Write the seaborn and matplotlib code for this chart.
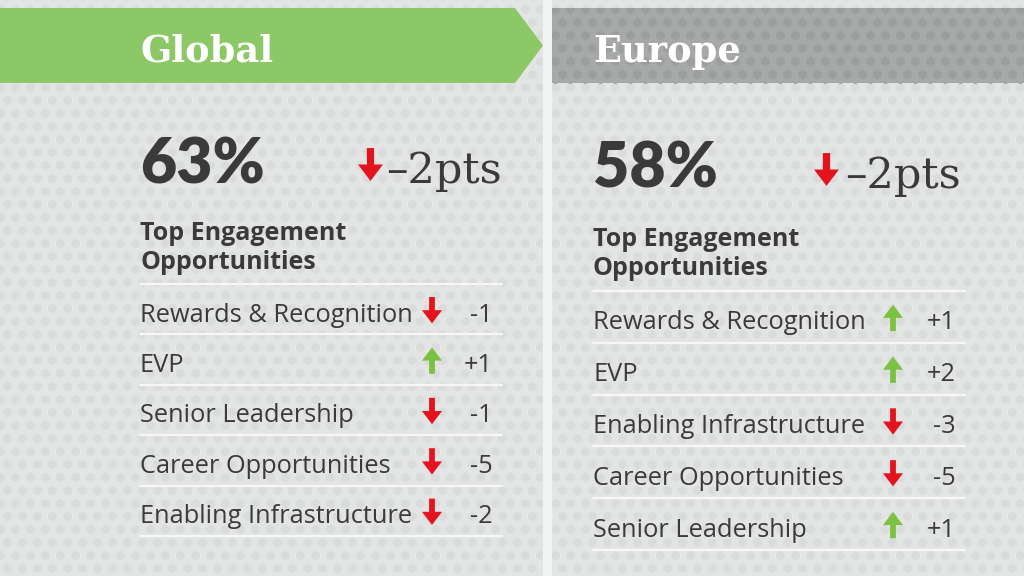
import numpy as np
import pandas as pd
import matplotlib
matplotlib.use("Agg")
import matplotlib.pyplot as plt
import seaborn as sns
from matplotlib.path import Path
from matplotlib.patches import Polygon, Rectangle

# ---------------- data ----------------
regions = ["Global", "Europe"]
engagement = [63, 58]
engagement_change = [-2, -2]
heading = "Top Engagement\nOpportunities"
global_drivers = ["Rewards & Recognition", "EVP", "Senior Leadership",
                  "Career Opportunities", "Enabling Infrastructure"]
global_changes = [-1, 1, -1, -5, -2]
europe_drivers = ["Rewards & Recognition", "EVP", "Enabling Infrastructure",
                  "Career Opportunities", "Senior Leadership"]
europe_changes = [1, 2, -3, -5, 1]

# ---------------- style ----------------
sns.set_theme(style="white")
plt.rcParams["font.family"] = ["Open Sans", "DejaVu Sans"]

BG = "#e3e4e4"
DOT = "#dadbdb"
GREEN_BANNER = "#8cc866"
GRAY_BANNER = "#a7a8a8"
GRAY_DOT = "#9c9d9d"
TXT = "#3a3a3a"
RED = "#e3141e"
GREEN = "#7cc242"

def arrow_path(up):
    s = 1 if up else -1
    w, sh, hb = 0.38, 0.11, 0.0
    verts = [(-sh, -0.5 * s), (sh, -0.5 * s), (sh, hb * s), (w, hb * s),
             (0, 0.5 * s), (-w, hb * s), (-sh, hb * s), (-sh, -0.5 * s)]
    codes = [Path.MOVETO] + [Path.LINETO] * 6 + [Path.CLOSEPOLY]
    return Path(verts, codes)

UP, DOWN = arrow_path(True), arrow_path(False)

fig = plt.figure(figsize=(10.24, 5.76), dpi=100)
fig.patch.set_facecolor(BG)
ax = fig.add_axes([0, 0, 1, 1])
ax.set_xlim(0, 1024)
ax.set_ylim(576, 0)
ax.axis("off")
ax.set_facecolor(BG)

# hex dot texture
gx, gy = [], []
for j, yy in enumerate(np.arange(-4, 590, 13.0)):
    off = 7.5 if j % 2 else 0.0
    for xx in np.arange(-8, 1040, 15.0):
        gx.append(xx + off)
        gy.append(yy)
gx, gy = np.array(gx), np.array(gy)
ax.scatter(gx, gy, s=48, marker="h", color=DOT, linewidths=0, zorder=0)

# divider
ax.add_patch(Rectangle((543, 0), 9, 576, color="#f2f3f3", zorder=1, lw=0))

# banners
ax.add_patch(Polygon([(0, 8), (515, 8), (543, 45.5), (515, 83), (0, 83)],
                     closed=True, color=GREEN_BANNER, lw=0, zorder=2))
gb = Rectangle((552, 8), 472, 75, color=GRAY_BANNER, lw=0, zorder=2)
ax.add_patch(gb)
dots = ax.scatter(gx, gy, s=48, marker="h", color=GRAY_DOT, linewidths=0, zorder=3)
dots.set_clip_path(gb)

panels = [
    dict(x=140, title_y=62, big_y=183, arr_x=370, arr_y=164, chg_x=386,
         head_y=221, top=284, pitch=50.4, right=502, row_arr=432, val_x=493,
         drivers=global_drivers, changes=global_changes),
    dict(x=593, title_y=62, big_y=188, arr_x=826, arr_y=169, chg_x=845,
         head_y=227, top=291, pitch=51.8, right=965, row_arr=893, val_x=956,
         drivers=europe_drivers, changes=europe_changes),
]

for k, p in enumerate(panels):
    ax.text(p["x"], p["title_y"], regions[k], color="white", fontsize=26.5,
            fontweight="bold", family="DejaVu Serif", va="baseline", zorder=5)
    ax.text(p["x"], p["big_y"], f"{engagement[k]}%", color=TXT, fontsize=45,
            fontweight="heavy", family=["Lato", "DejaVu Sans"], va="baseline", zorder=5)
    ch = engagement_change[k]
    ax.text(p["chg_x"], p["big_y"], f"{'–' if ch < 0 else '+'}{abs(ch)}pts",
            color=TXT, fontsize=31, family="DejaVu Serif", va="baseline", zorder=5)
    hdf = pd.DataFrame({"x": [p["arr_x"]], "y": [p["arr_y"]],
                        "dir": ["down" if ch < 0 else "up"]})
    sns.scatterplot(data=hdf, x="x", y="y", hue="dir", style="dir",
                    palette={"down": RED, "up": GREEN},
                    markers={"down": DOWN, "up": UP}, s=560, linewidth=0,
                    legend=False, ax=ax, zorder=6)
    ax.text(p["x"], p["head_y"], heading, color=TXT, fontsize=18,
            fontweight="bold", va="top", linespacing=1.2, zorder=5)

    n = len(p["drivers"])
    ys = [p["top"] + (i + 0.5) * p["pitch"] for i in range(n)]
    for i in range(n + 1):
        yl = p["top"] + i * p["pitch"]
        ax.plot([p["x"], p["right"]], [yl, yl], color="#f7f7f7", lw=1.6, zorder=4)
    for name, v, yy in zip(p["drivers"], p["changes"], ys):
        ax.text(p["x"], yy + 6, name, color=TXT, fontsize=18.3, va="center", zorder=5)
        ax.text(p["val_x"], yy + 6, f"{v:+d}", color=TXT, fontsize=18.3,
                va="center", ha="right", zorder=5)
    rdf = pd.DataFrame({"x": [p["row_arr"]] * n, "y": [y + 1 for y in ys],
                        "dir": ["down" if v < 0 else "up" for v in p["changes"]]})
    sns.scatterplot(data=rdf, x="x", y="y", hue="dir", style="dir",
                    palette={"down": RED, "up": GREEN},
                    markers={"down": DOWN, "up": UP}, s=360, linewidth=0,
                    legend=False, ax=ax, zorder=6)

ax.set_xlim(0, 1024)
ax.set_ylim(576, 0)
ax.axis("off")
fig.savefig("out.png", dpi=100, facecolor=BG)
